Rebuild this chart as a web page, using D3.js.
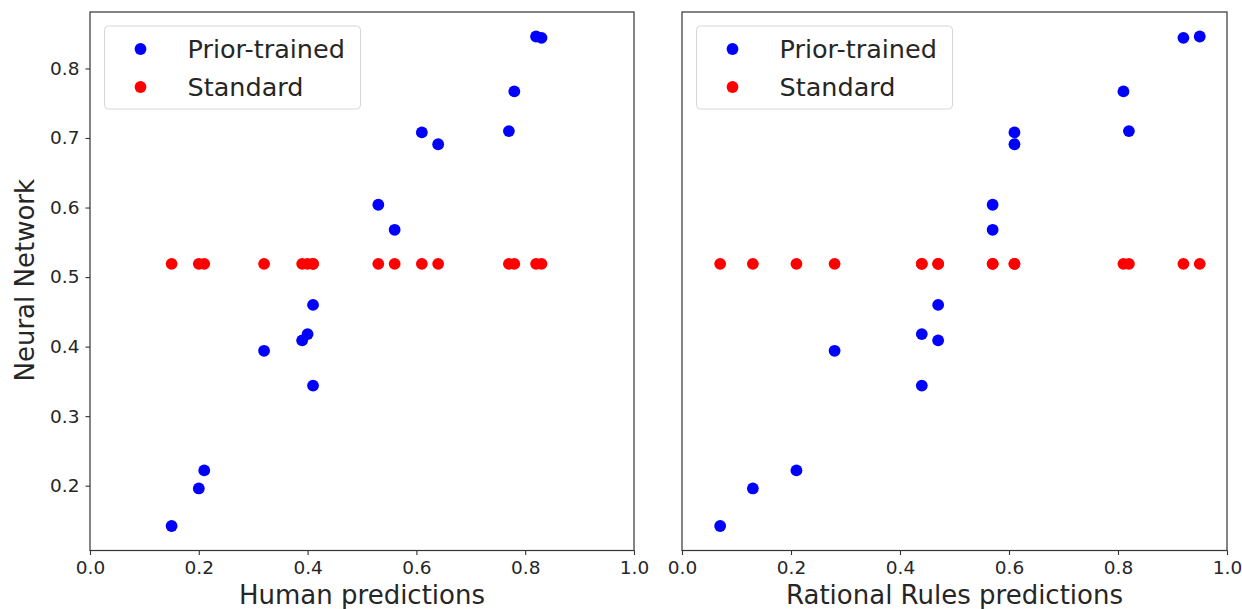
<!DOCTYPE html>
<html>
<head>
<meta charset="utf-8">
<script src="https://cdn.jsdelivr.net/npm/d3@7"></script>
<style>
  html, body { margin: 0; padding: 0; background: #fff; }
  svg { display: block; font-family: "DejaVu Sans", sans-serif; }
</style>
</head>
<body>
<svg id="chart" width="1242" height="609"></svg>
<script>
// ---- data ----
const nnPrior    = [0.142, 0.196, 0.222, 0.394, 0.409, 0.418, 0.460, 0.344, 0.604, 0.568, 0.708, 0.691, 0.710, 0.767, 0.846, 0.844];
const nnStandard = [0.519, 0.519, 0.519, 0.519, 0.519, 0.519, 0.519, 0.519, 0.519, 0.519, 0.519, 0.519, 0.519, 0.519, 0.519, 0.519];
const humanPred  = [0.15, 0.20, 0.21, 0.32, 0.39, 0.40, 0.41, 0.41, 0.53, 0.56, 0.61, 0.64, 0.77, 0.78, 0.82, 0.83];
const rrPred     = [0.07, 0.13, 0.21, 0.28, 0.47, 0.44, 0.47, 0.44, 0.57, 0.57, 0.61, 0.61, 0.82, 0.81, 0.95, 0.92];
const seriesNames = ["Prior-trained", "Standard"];
const seriesColors = ["#0000ff", "#ff0000"];
const xTicks = [0.0, 0.2, 0.4, 0.6, 0.8, 1.0];
const yTicks = [0.2, 0.3, 0.4, 0.5, 0.6, 0.7, 0.8];
const xLabels = ["Human predictions", "Rational Rules predictions"];
const yLabel = "Neural Network";

// ---- layout ----
const svg = d3.select("#chart");
const plotTop = 12, plotBottom = 550.5;
const panels = [
  { left: 90, right: 634, xs: humanPred, xlabel: xLabels[0], showY: true },
  { left: 682, right: 1227, xs: rrPred, xlabel: xLabels[1], showY: false }
];
const allY = nnPrior.concat(nnStandard);
const yMin = d3.min(allY), yMax = d3.max(allY), yPad = (yMax - yMin) * 0.05;
const y = d3.scaleLinear().domain([yMin - yPad, yMax + yPad]).range([plotBottom, plotTop]);
const textColor = "#262626";
const spineColor = "#333";

panels.forEach(p => {
  const x = d3.scaleLinear().domain([0, 1]).range([p.left, p.right]);
  const g = svg.append("g");

  const pts = p.xs.map((xv, i) => ({ x: xv, y: nnPrior[i], c: seriesColors[0] }))
    .concat(p.xs.map((xv, i) => ({ x: xv, y: nnStandard[i], c: seriesColors[1] })));
  g.selectAll("circle.pt").data(pts).enter().append("circle")
    .attr("class", "pt")
    .attr("cx", d => x(d.x)).attr("cy", d => y(d.y))
    .attr("r", 5.9).attr("fill", d => d.c);

  g.append("rect")
    .attr("x", p.left).attr("y", plotTop)
    .attr("width", p.right - p.left).attr("height", plotBottom - plotTop)
    .attr("fill", "none").attr("stroke", spineColor).attr("stroke-width", 1.2);

  const xAxis = d3.axisBottom(x).tickValues(xTicks).tickFormat(d3.format(".1f"))
    .tickSize(4.5).tickPadding(6);
  const xa = g.append("g").attr("transform", `translate(0,${plotBottom})`).call(xAxis);
  xa.select(".domain").remove();
  xa.selectAll("line").attr("stroke", spineColor).attr("stroke-width", 1.1);
  xa.selectAll("text").attr("font-size", 18.5).attr("fill", textColor)
    .attr("font-family", "DejaVu Sans");

  if (p.showY) {
    const yAxis = d3.axisLeft(y).tickValues(yTicks).tickFormat(d3.format(".1f"))
      .tickSize(4.5).tickPadding(6);
    const ya = g.append("g").attr("transform", `translate(${p.left},0)`).call(yAxis);
    ya.select(".domain").remove();
    ya.selectAll("line").attr("stroke", spineColor).attr("stroke-width", 1.1);
    ya.selectAll("text").attr("font-size", 18.5).attr("fill", textColor)
      .attr("font-family", "DejaVu Sans");

    svg.append("text")
      .attr("transform", `translate(34,${(plotTop + plotBottom) / 2 - 1}) rotate(-90)`)
      .attr("text-anchor", "middle")
      .attr("font-size", 26).attr("fill", textColor)
      .text(yLabel);
  }

  svg.append("text")
    .attr("x", (p.left + p.right) / 2).attr("y", 604)
    .attr("text-anchor", "middle")
    .attr("font-size", 26).attr("fill", textColor)
    .text(p.xlabel);

  const lg = g.append("g").attr("transform", `translate(${p.left + 14.5},26)`);
  lg.append("rect").attr("x", 0).attr("y", 0).attr("width", 256).attr("height", 83)
    .attr("rx", 4).attr("fill", "#fff").attr("fill-opacity", 0.8)
    .attr("stroke", "#d6d6d6").attr("stroke-width", 1);
  seriesNames.forEach((name, i) => {
    const cy = 23 + i * 38;
    lg.append("circle").attr("cx", 36).attr("cy", cy).attr("r", 5.9).attr("fill", seriesColors[i]);
    lg.append("text").attr("x", 83).attr("y", cy + 8.5)
      .attr("font-size", 25.5).attr("fill", textColor).text(name);
  });
});
</script>
</body>
</html>
